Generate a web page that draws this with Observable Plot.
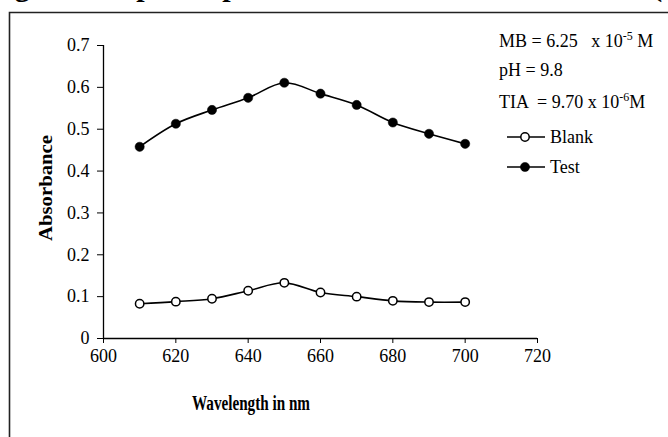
<!DOCTYPE html>
<html><head><meta charset="utf-8">
<script src="https://cdn.jsdelivr.net/npm/d3@7"></script>
<script src="https://cdn.jsdelivr.net/npm/@observablehq/plot@0.6"></script>
<style>
body{margin:0;background:#fff}
#c{position:relative;width:668px;height:437px;overflow:hidden}
#c svg text{white-space:pre;font-family:'Liberation Serif','Times New Roman',serif !important}
</style>
</head><body><div id="c"></div>
<script>
const wavelengths = [610, 620, 630, 640, 650, 660, 670, 680, 690, 700];
const blank = [0.083, 0.088, 0.095, 0.114, 0.133, 0.110, 0.100, 0.090, 0.087, 0.087];
const test  = [0.458, 0.513, 0.546, 0.575, 0.611, 0.585, 0.558, 0.516, 0.489, 0.465];
const xTicks = [600, 620, 640, 660, 680, 700, 720];
const yTicks = [0, 0.1, 0.2, 0.3, 0.4, 0.5, 0.6, 0.7];
const seriesNames = ["Blank", "Test"];
const xLabel = "Wavelength in nm";
const yLabel = "Absorbance";
const titleText = "Fig.4 Absorption spectra of Blank and Test solution (";
const conditionLines = [
  [["MB = 6.25   x 10", 0], ["-5", 1], [" M", 0]],
  [["pH = 9.8", 0]],
  [["TIA  = 9.70 x 10", 0], ["-6", 1], ["M", 0]]
];

const blankData = wavelengths.map((w, i) => ({w, a: blank[i]}));
const testData = wavelengths.map((w, i) => ({w, a: test[i]}));

const font = "'Liberation Serif','Times New Roman',serif";

const chart = Plot.plot({
  width: 668, height: 437,
  marginLeft: 103, marginRight: 131, marginTop: 45, marginBottom: 99,
  style: {fontFamily: font, fontSize: "18px", color: "#000", background: "transparent", overflow: "visible"},
  x: {domain: [600, 720]},
  y: {domain: [0, 0.7]},
  marks: [
    Plot.axisX({ticks: xTicks, tickSize: 5, tickPadding: 6, label: null, tickFormat: d => String(d), stroke: "#000", fontSize: 18}),
    Plot.axisY({ticks: yTicks, tickSize: 6, tickPadding: 8, label: null, tickFormat: d => d === 0 ? "0" : d.toFixed(1), stroke: "#000", fontSize: 18}),
    Plot.ruleX([600], {stroke: "#000", strokeWidth: 1.3}),
    Plot.ruleY([0], {stroke: "#000", strokeWidth: 1.3}),
    Plot.line(testData, {x: "w", y: "a", curve: "catmull-rom", stroke: "#000", strokeWidth: 1.6}),
    Plot.line(blankData, {x: "w", y: "a", curve: "catmull-rom", stroke: "#000", strokeWidth: 1.6}),
    Plot.dot(testData, {x: "w", y: "a", r: 4.6, fill: "#000", stroke: "#000", strokeWidth: 0.5}),
    Plot.dot(blankData, {x: "w", y: "a", r: 4.2, fill: "#fff", stroke: "#000", strokeWidth: 1.5})
  ]
});

document.getElementById("c").appendChild(chart);
const svg = d3.select(chart);

// frame (border of the figure box)
svg.append("path").attr("d", "M9.5,437 V12.5 H668").attr("fill", "none").attr("stroke", "#222").attr("stroke-width", 1.6);

// title, cut off by the top edge as in the reference (only descenders visible)
svg.append("text").attr("x", -12).attr("y", -4).attr("text-anchor", "start").attr("font-weight", "bold")
  .attr("font-size", 30).attr("fill", "#000").text(titleText);

// axis titles (tall, narrow bold type as in the reference)
svg.append("text").attr("x", 251).attr("y", 410).attr("text-anchor", "middle")
  .attr("font-weight", "bold").attr("font-size", 20).attr("textLength", 118).attr("lengthAdjust", "spacingAndGlyphs")
  .attr("fill", "#000").text(xLabel);
svg.append("text").attr("transform", "translate(52,188) rotate(-90)").attr("text-anchor", "middle")
  .attr("font-weight", "bold").attr("font-size", 19).attr("textLength", 106).attr("lengthAdjust", "spacingAndGlyphs")
  .attr("fill", "#000").text(yLabel);

// condition annotations
const baselines = [47, 76, 108];
conditionLines.forEach((segs, i) => {
  const t = svg.append("text").attr("x", 499).attr("y", baselines[i]).attr("text-anchor", "start")
    .attr("font-size", 18).attr("fill", "#000");
  segs.forEach(([s, sup], j) => {
    const ts = t.append("tspan").text(s);
    if (sup) ts.attr("font-size", 12).attr("dy", -7);
    else if (j > 0 && segs[j - 1][1]) ts.attr("dy", 7);
  });
});

// legend
const legY = [137, 167];
seriesNames.forEach((name, i) => {
  const y = legY[i];
  svg.append("line").attr("x1", 507).attr("x2", 545).attr("y1", y).attr("y2", y).attr("stroke", "#000").attr("stroke-width", 1.6);
  svg.append("circle").attr("cx", 525).attr("cy", y).attr("r", i === 0 ? 4.2 : 4.6)
    .attr("fill", i === 0 ? "#fff" : "#000").attr("stroke", "#000").attr("stroke-width", i === 0 ? 1.5 : 0.5);
  svg.append("text").attr("x", 550).attr("y", y + 6).attr("text-anchor", "start").attr("font-size", 18).attr("fill", "#000").text(name);
});
</script>
</body></html>
